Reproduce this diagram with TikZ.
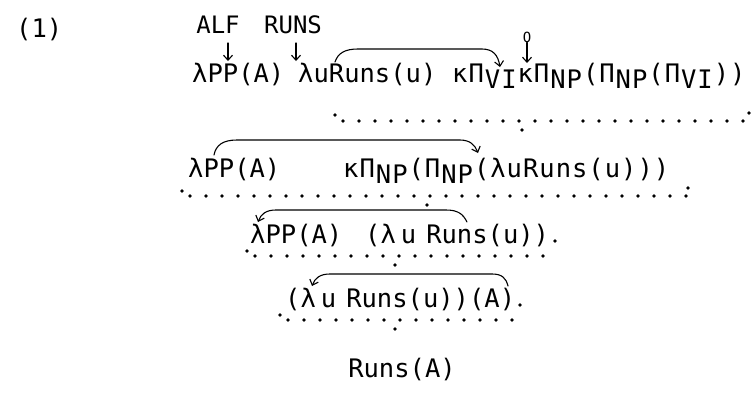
\documentclass[tikz,border=0pt]{standalone}
\usepackage{fontspec}
\newfontfamily\tw{DejaVu Sans Mono}
\usetikzlibrary{arrows.meta}
\newcommand\dn[1]{\raisebox{-6pt}{#1}}
\newcommand\ks{\kern1pt}
\newcommand\dotrow[6]{% x0, x1, y, xm, start raise, end raise
  \fill (#1,#3-#5) circle (1.8);
  \fill (#2,#3-#6) circle (1.8);
  \fill (#4,#3+9) circle (1.8);
  \pgfmathtruncatemacro\nn{(#2-#1-10)/16}
  \foreach \k in {0,...,\nn} {\fill (#1+8+16*\k,#3) circle (1.8);}
}
\begin{document}
\begin{tikzpicture}[x=1pt,y=-1pt,
  txt/.style={font=\tw\fontsize{25.5}{30}\selectfont, inner sep=0pt, anchor=base west},
  lbl/.style={font=\tw\fontsize{24}{28}\selectfont, inner sep=0pt, anchor=base},
  arr/.style={-{Straight Barb[length=5pt,width=9pt]}, line width=1.1pt},
  every path/.style={line cap=round}]
\useasboundingbox (0,0) rectangle (752,392);
% labels
\node[txt] (num) at (16,37) {(1)};
\node[lbl] (alf) at (218,33) {ALF};
\node[lbl] (runs) at (293,33) {RUNS};
\node[font=\tw\fontsize{14}{16}\selectfont, inner sep=0pt, anchor=base] (o) at (527,42) {O};
% row 1
\node[txt] (r1a) at (192,82) {λPP(A)};
\node[txt] (r1b) at (298,82) {λuRuns(u)};
\node[txt] (r1c) at (452,82) {κ\ks{}Π\ks{}\dn{V\ks{}I}\ks{}κ\ks{}Π\ks{}\dn{N\ks{}P}\ks{}(\ks{}Π\ks{}\dn{N\ks{}P}\ks{}(\ks{}Π\ks{}\dn{V\ks{}I}\ks{})\ks{})};
% row 2
\node[txt] (r2a) at (188,177) {λPP(A)};
\node[txt] (r2b) at (343,177) {κ\ks{}Π\ks{}\dn{N\ks{}P}\ks{}(\ks{}Π\ks{}\dn{N\ks{}P}\ks{}(\ks{}λ\ks{}u\ks{}R\ks{}u\ks{}n\ks{}s\ks{}(\ks{}u\ks{})\ks{})\ks{})};
% row 3
\node[txt] (r3a) at (250,243) {λPP(A)};
\node[txt] (r3b) at (365,243) {(λ\hspace{5pt}u\hspace{10pt}Runs(u))};
% row 4
\node[txt] (r4) at (285,307) {(λ\hspace{5pt}u\hspace{10pt}Runs(u))(A)};
% row 5
\node[txt, anchor=base] (r5) at (402,377) {Runs(A)};
% down arrows
\coordinate (a1s) at (228,43); \coordinate (a1e) at (228,61);
\coordinate (a2s) at (296,43); \coordinate (a2e) at (296,61);
\coordinate (a3e) at (527,63);
\draw[arr] (a1s) -- (a1e);
\draw[arr] (a2s) -- (a2e);
\draw[arr] (o.south) -- (a3e);
% curved arrows
\coordinate (c1s) at (335,62); \coordinate (c1e) at (500,67);
\draw[arr] (c1s) .. controls (338,53) and (345,49) .. (358,49) -- (482,49) .. controls (493,49) and (498,55) .. (c1e);
\coordinate (c2s) at (214,155); \coordinate (c2e) at (478,153);
\draw[arr] (c2s) .. controls (216,145) and (223,140) .. (237,140) -- (460,140) .. controls (470,140) and (475,145) .. (c2e);
\coordinate (c3s) at (467,222); \coordinate (c3e) at (258,222);
\draw[arr] (c3s) .. controls (463,214) and (458,210) .. (446,210) -- (276,210) .. controls (266,210) and (261,214) .. (c3e);
\coordinate (c4s) at (508,286); \coordinate (c4e) at (312,286);
\draw[arr] (c4s) .. controls (506,278) and (502,274) .. (492,274) -- (330,274) .. controls (320,274) and (315,278) .. (c4e);
% dotted braces
\dotrow{335}{749}{121}{522}{6}{8}
\dotrow{182}{688}{196}{427}{5}{8}
\dotrow{247}{555}{256}{395}{5}{15}
\dotrow{280}{520}{320}{395}{5}{15}
\end{tikzpicture}
\end{document}
